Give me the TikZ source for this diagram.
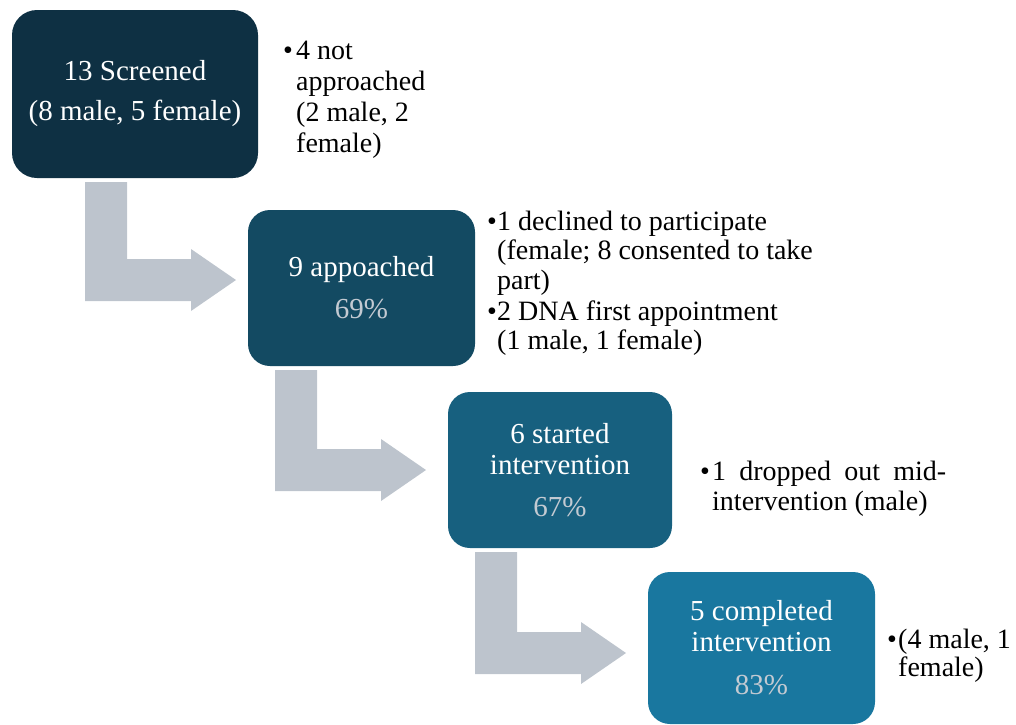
\documentclass[tikz,border=0pt]{standalone}
\usepackage{fontspec}
\setmainfont{Liberation Serif}
\definecolor{cA}{HTML}{0E3043}
\definecolor{cB}{HTML}{134A62}
\definecolor{cC}{HTML}{17607F}
\definecolor{cD}{HTML}{19779F}
\definecolor{pct}{HTML}{C3CAD2}
\definecolor{arrowgray}{HTML}{BDC4CD}
\begin{document}
\begin{tikzpicture}[x=1pt,y=-1pt,
  box/.style={rounded corners=22pt, inner sep=0pt, text=white, align=center,
    font=\fontsize{29}{31}\selectfont},
  note/.style={anchor=base west, align=left, inner sep=0pt,
    font=\fontsize{28}{31}\selectfont},
  blt/.style={anchor=base west, inner sep=0pt, font=\fontsize{28}{31}\selectfont},
  barrow/.style={fill=arrowgray, draw=none}]
\useasboundingbox (0,0) rectangle (1016,724);

% boxes
\node[box, fill=cA, minimum width=246pt, minimum height=168pt, rounded corners=25pt] (b1) at (135,94)
  {13 Screened\\[9pt](8 male, 5 female)};
\node[box, fill=cB, minimum width=227pt, minimum height=156pt] (b2) at (361.5,288)
  {9 appoached\\[11pt]{\color{pct}69\%}};
\node[box, fill=cC, minimum width=224pt, minimum height=156pt] (b3) at (560,470)
  {6 started\\intervention\\[11pt]{\color{pct}67\%}};
\node[box, fill=cD, minimum width=227pt, minimum height=152pt] (b4) at (761.5,648)
  {5 completed\\intervention\\[12pt]{\color{pct}83\%}};

% bent arrows
\fill[barrow] (85,182) -- (127,182) -- (127,259) -- (191,259) -- (191,249)
  -- (236,280) -- (191,311) -- (191,301) -- (85,301) -- cycle;
\fill[barrow] (275,370) -- (317,370) -- (317,449) -- (381,449) -- (381,439)
  -- (426,470) -- (381,501) -- (381,491) -- (275,491) -- cycle;
\fill[barrow] (475,552) -- (517,552) -- (517,632) -- (581,632) -- (581,622)
  -- (626,653) -- (581,684) -- (581,674) -- (475,674) -- cycle;

% notes (base anchor = baseline of the last line)
\node[blt] (d1) at (283,59) {•};
\node[note] (n1) at (296,152) {4 not\\approached\\(2 male, 2\\female)};

\node[blt] (d2) at (487,230) {•};
\node[note, font=\fontsize{28}{29.5}\selectfont] (n2) at (497,289)
  {1 declined to participate\\(female; 8 consented to take\\part)};
\node[blt] (d3) at (487,320) {•};
\node[note, font=\fontsize{28}{29}\selectfont] (n3) at (497,349)
  {2 DNA first appointment\\(1 male, 1 female)};

\node[blt] (d4) at (700,480) {•};
\node[note, font=\fontsize{28}{30}\selectfont] (n4) at (712,510)
  {\makebox[234pt][s]{1 dropped out mid-}\\intervention (male)};

\node[blt] (d5) at (887,648) {•};
\node[note, font=\fontsize{28}{28}\selectfont] (n5) at (898,676)
  {(4 male, 1\\female)};
\end{tikzpicture}
\end{document}
